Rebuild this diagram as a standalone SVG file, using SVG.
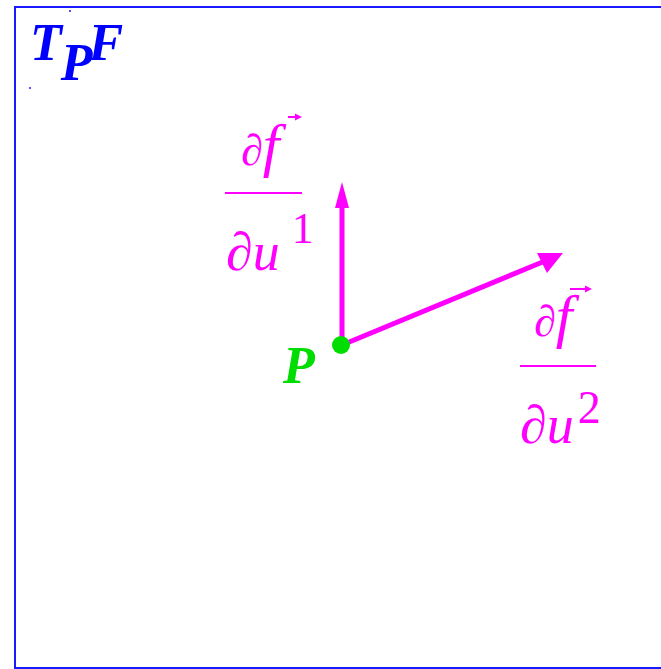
<svg xmlns="http://www.w3.org/2000/svg" width="661" height="669" viewBox="0 0 661 669">
<style>
.frame{fill:none;stroke:#1a1aff;stroke-width:2}
.m{font-family:"Liberation Serif",serif;font-style:italic;fill:#ff00ff}
.d{font-family:"Liberation Serif",serif;font-style:normal;fill:#ff00ff}
.bar{stroke:#ff00ff;stroke-width:2}
.vec{stroke:#ff00ff;stroke-width:5;fill:none}
.head{fill:#ff00ff}
.t{font-family:"Liberation Serif",serif;font-style:italic;font-weight:bold;fill:#0000ff;font-size:52px}
</style>
<rect width="661" height="669" fill="#fff"/>
<path class="frame" d="M680,7 H15 V668 H680"/>
<circle cx="70" cy="11" r="1" fill="#1a1aff"/>
<circle cx="30" cy="88" r="1" fill="#1a1aff"/>
<g id="title">
<text class="t" x="30" y="60">T<tspan dx="-1" dy="20">P</tspan><tspan dx="-4" dy="-20">F</tspan></text>
</g>
<g id="connectors">
<line class="vec" x1="342" y1="345" x2="342" y2="205"/>
<polygon class="head" points="342,182 335,208 349,208"/>
<line class="vec" x1="342" y1="345" x2="545" y2="261"/>
<polygon class="head" points="563,253 537,253 547,273"/>
</g>
<g id="P">
<circle cx="341" cy="345" r="9" fill="#00dd00"/>
<text x="283" y="383" font-family="Liberation Serif,serif" font-style="italic" font-weight="bold" font-size="52" fill="#00dd00">P</text>
</g>
<g id="label1">
<text class="m" x="241" y="165"><tspan font-size="44">∂</tspan><tspan font-size="60">f</tspan></text>
<line class="bar" x1="288" y1="117" x2="299" y2="117"/>
<polygon class="head" points="302,117 295,113.5 295,120.5"/>
<line class="bar" x1="225" y1="193" x2="302" y2="193"/>
<text class="m" x="226" y="270" font-size="54">∂u<tspan class="d" font-size="44" dx="12" dy="-27">1</tspan></text>
</g>
<g id="label2">
<text class="m" x="534" y="336"><tspan font-size="44">∂</tspan><tspan font-size="60">f</tspan></text>
<line class="bar" x1="570" y1="289" x2="589" y2="289"/>
<polygon class="head" points="592,289 585,285.5 585,292.5"/>
<line class="bar" x1="520" y1="366" x2="596" y2="366"/>
<text class="m" x="520" y="443" font-size="54">∂u<tspan class="d" font-size="46" dx="4" dy="-20">2</tspan></text>
</g>
</svg>
